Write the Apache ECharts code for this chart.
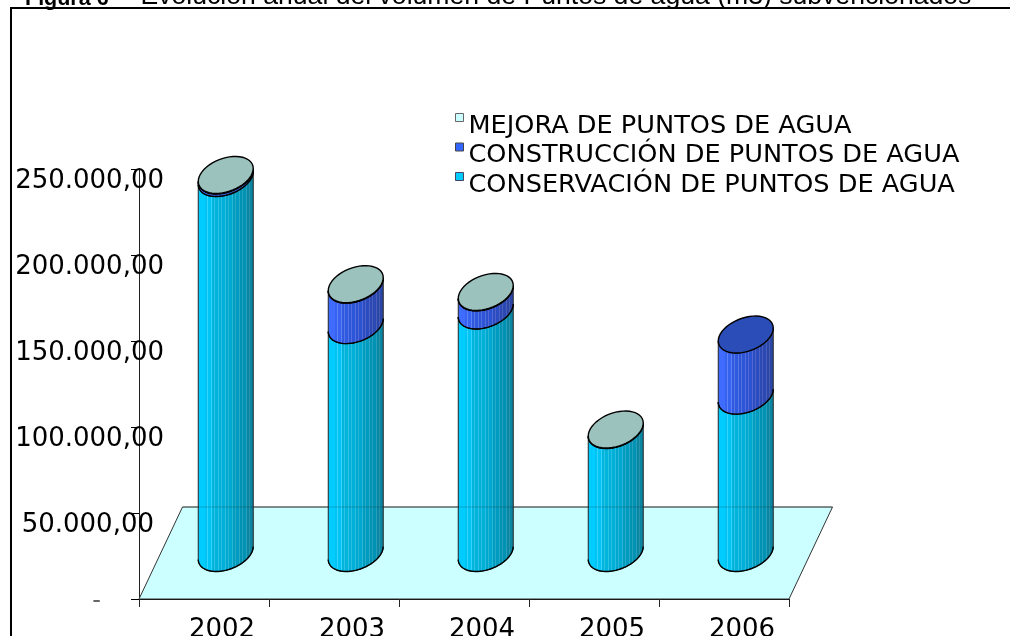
<!DOCTYPE html>
<html>
<head>
<meta charset="utf-8">
<script src="https://cdn.jsdelivr.net/npm/echarts@6/dist/echarts.min.js"></script>
<style>
html, body { margin: 0; padding: 0; background: #fff; overflow: hidden; }
#chart { width: 1010px; height: 636px; }
</style>
</head>
<body>
<div id="chart"></div>
<script>
// datos
var years = ['2002', '2003', '2004', '2005', '2006'];
var conservacion = [218000, 132500, 141000, 71500, 91500];
var construccion = [1500, 23500, 10500, 0, 35500];
var mejora = [300, 300, 300, 300, 0];
var valueTicks = [0, 50000, 100000, 150000, 200000, 250000];
var tickLabels = ['-', '50.000,00', '100.000,00', '150.000,00', '200.000,00', '250.000,00'];
var seriesNames = ['CONSERVACIÓN DE PUNTOS DE AGUA', 'CONSTRUCCIÓN DE PUNTOS DE AGUA', 'MEJORA DE PUNTOS DE AGUA'];

var legendColors = ['#00ccff', '#3366ff', '#ccffff'];
var capColors = ['#0a9cc0', '#2a4db8', '#9cc2be'];

var myChart = echarts.init(document.getElementById('chart'));

// fondo del grafico: perspectiva de la base
var DEPTH_X = 43.5, DEPTH_Y = 92;

// sombreado del cilindro con rayas finas
function stripes(shades, lights) {
    var stops = [], n = 16, w = 1 / n, k, i;
    for (i = 0; i < n; i++) {
        k = Math.floor(i * shades.length / n);
        stops.push({ offset: i * w, color: shades[k] });
        stops.push({ offset: (i + 0.7) * w, color: shades[k] });
        stops.push({ offset: (i + 0.7) * w, color: i < 2 ? shades[k] : lights[k] });
        stops.push({ offset: (i + 1) * w, color: i < 2 ? shades[k] : lights[k] });
    }
    return { type: 'linear', x: 0, y: 0, x2: 1, y2: 0, colorStops: stops };
}
var bodyFills = [
    stripes(['#00ccff', '#00c4f4', '#00b4dc', '#00b0d8', '#00a8cf', '#009cc0', '#0092b2', '#0a86a2'],
        ['#00ccff', '#38d4ff', '#2ec2e4', '#2cbee0', '#2ab6d6', '#28aac8', '#26a0bc', '#2a94ac']),
    stripes(['#3f6cff', '#3563f0', '#2f5ae0', '#2d55d8', '#2c52d0', '#2b4dc0', '#2b49b2', '#2a46a6'],
        ['#3f6cff', '#5f82f8', '#5676e8', '#5370e0', '#5068d8', '#4c62c8', '#4a5eba', '#485aae'])
];

function ellipsePoint(cx, cy, a, t) {
    var b = a * 0.63, k = a * 0.236;
    return [cx + a * Math.cos(t), cy + b * Math.sin(t) - k * Math.cos(t)];
}

// un tramo del cilindro entre dos valores
function renderSegment(seriesIndex, lows, values, params, api) {
    var i = api.value(0);
    var v = values[i];
    var low = lows[i];
    if (!v) return;
    var band = api.size([1, 0])[0];
    var a = band * 0.2115;
    var c0 = api.coord([i, low]);
    var c1 = api.coord([i, low + v]);
    var cx = c0[0] + DEPTH_X / 2;
    var y0 = c0[1] - DEPTH_Y / 2;
    var y1 = c1[1] - DEPTH_Y / 2;
    var front = [], n = 32, j;
    for (j = 0; j <= n; j++) {
        front.push(ellipsePoint(cx, y0, a, Math.PI - Math.PI * j / n));
    }
    var body = front.slice();
    for (j = 0; j <= n; j++) {
        body.push(ellipsePoint(cx, y1, a, Math.PI * j / n));
    }
    var children = [{
        type: 'polygon',
        shape: { points: body },
        style: { fill: seriesIndex === 2 ? '#ccffff' : bodyFills[seriesIndex], stroke: '#222', lineWidth: 1 }
    }, {
        type: 'polyline',
        shape: { points: front },
        style: { fill: 'none', stroke: '#000', lineWidth: 1.4 }
    }];
    var isTop = seriesIndex === 2 || !(seriesIndex === 1 ? mejora[i] : (construccion[i] || mejora[i]));
    if (isTop) {
        var cap = [];
        for (j = 0; j < 48; j++) cap.push(ellipsePoint(cx, y1, a, 2 * Math.PI * j / 48));
        children.push({
            type: 'polygon',
            shape: { points: cap },
            style: { fill: capColors[seriesIndex], stroke: '#000', lineWidth: 1.4 }
        });
    }
    return { type: 'group', children: children };
}

function renderFloor(params, api) {
    var band = api.size([1, 0])[0];
    var l = api.coord([0, 0]);
    var r = api.coord([years.length - 1, 0]);
    var x0 = l[0] - band / 2, x1 = r[0] + band / 2, y = l[1];
    return {
        type: 'polygon',
        shape: { points: [[x0, y], [x1, y], [x1 + DEPTH_X, y - DEPTH_Y], [x0 + DEPTH_X, y - DEPTH_Y]] },
        style: { fill: '#ccffff', stroke: '#333', lineWidth: 1 }
    };
}

function renderFloorEdge(params, api) {
    var band = api.size([1, 0])[0];
    var l = api.coord([0, 0]);
    var r = api.coord([years.length - 1, 0]);
    var y = l[1] - DEPTH_Y;
    return {
        type: 'line',
        shape: { x1: l[0] - band / 2 + DEPTH_X, y1: y, x2: r[0] + band / 2 + DEPTH_X, y2: y },
        style: { stroke: '#000', lineWidth: 1, opacity: 0.2 }
    };
}

function segmentSeries(index, lows, values) {
    return {
        name: seriesNames[index],
        type: 'custom',
        z: 3 + index,
        clip: false,
        silent: true,
        itemStyle: { color: legendColors[index] },
        encode: { x: 0, y: 1 },
        renderItem: function (params, api) {
            return renderSegment(index, lows, values, params, api);
        },
        data: years.map(function (y, i) { return [i, lows[i] + values[i]]; })
    };
}

var base2 = conservacion.map(function () { return 0; });
var base3 = conservacion.map(function (v, i) { return v + construccion[i]; });

var option = {
    animation: false,
    backgroundColor: '#fff',
    textStyle: { fontFamily: '"DejaVu Sans"' },
    title: {
        left: 20,
        top: -22,
        text: '{b|Figura 6 – }Evolución anual del volumen de Puntos de agua (m3) subvencionados',
        textStyle: {
            fontFamily: '"Liberation Sans"',
            fontSize: 26.6,
            fontWeight: 'normal',
            color: '#000',
            rich: { b: { fontFamily: '"Liberation Sans"', fontSize: 21.5, fontWeight: 'bold', color: '#000', padding: [0, 8, 0, 0], verticalAlign: 'bottom' } }
        }
    },
    graphic: [{
        type: 'polyline',
        shape: { points: [[11, 660], [11, 8], [1012, 8]] },
        style: { fill: 'none', stroke: '#000', lineWidth: 2 },
        z: 1
    }],
    legend: {
        left: 450,
        top: 91,
        orient: 'vertical',
        itemWidth: 8,
        itemHeight: 8,
        itemGap: -13.5,
        icon: 'rect',
        selectedMode: false,
        formatter: function (name) { return '{t|' + name + '}'; },
        textStyle: {
            rich: { t: { fontSize: 25.6, color: '#000', fontFamily: '"DejaVu Sans"', padding: [17, 0, 0, 0], lineHeight: 29 } }
        },
        data: [
            { name: seriesNames[2], itemStyle: { color: legendColors[2], borderColor: '#666', borderWidth: 1 } },
            { name: seriesNames[1], itemStyle: { color: legendColors[1], borderColor: '#444', borderWidth: 1 } },
            { name: seriesNames[0], itemStyle: { color: legendColors[0], borderColor: '#446', borderWidth: 1 } }
        ]
    },
    grid: { left: 139, top: 169, width: 650, height: 430, containLabel: false, outerBoundsMode: 'none' },
    xAxis: {
        type: 'category',
        data: years,
        axisLine: { lineStyle: { color: '#000', width: 1 } },
        axisTick: { show: true, alignWithLabel: false, length: 8, lineStyle: { color: '#222' } },
        axisLabel: {
            fontSize: 26,
            color: '#000',
            margin: 18,
            padding: [0, 0, 0, 36]
        }
    },
    yAxis: {
        type: 'value',
        min: valueTicks[0],
        max: valueTicks[valueTicks.length - 1],
        interval: 50000,
        splitLine: { show: false },
        axisLine: { show: true, lineStyle: { color: '#222', width: 1 } },
        axisTick: { show: true, length: 8, lineStyle: { color: '#000' } },
        axisLabel: {
            margin: -25,
            fontSize: 26,
            color: '#000',
            formatter: function (value) {
                var i = valueTicks.indexOf(value);
                if (i === 0) return '{z|' + tickLabels[i] + '}';
                if (i === 1) return '{w|' + tickLabels[i] + '}';
                return '{v|' + tickLabels[i] + '}';
            },
            rich: {
                v: { fontSize: 26, color: '#000', padding: [25, 0, 0, 0] },
                w: { fontSize: 26, color: '#000', padding: [25, 10, 0, 0] },
                z: { fontSize: 24, color: '#666', padding: [6, 63, 0, 0] }
            }
        }
    },
    series: [{
        type: 'custom',
        z: 1,
        silent: true,
        clip: false,
        renderItem: renderFloor,
        encode: { x: 0, y: 1 },
        data: [[0, 0]]
    },
    segmentSeries(0, base2, conservacion),
    segmentSeries(1, conservacion, construccion),
    segmentSeries(2, base3, mejora),
    {
        type: 'custom',
        z: 8,
        silent: true,
        clip: false,
        renderItem: renderFloorEdge,
        encode: { x: 0, y: 1 },
        data: [[0, 0]]
    }]
};

myChart.setOption(option);
</script>
</body>
</html>
